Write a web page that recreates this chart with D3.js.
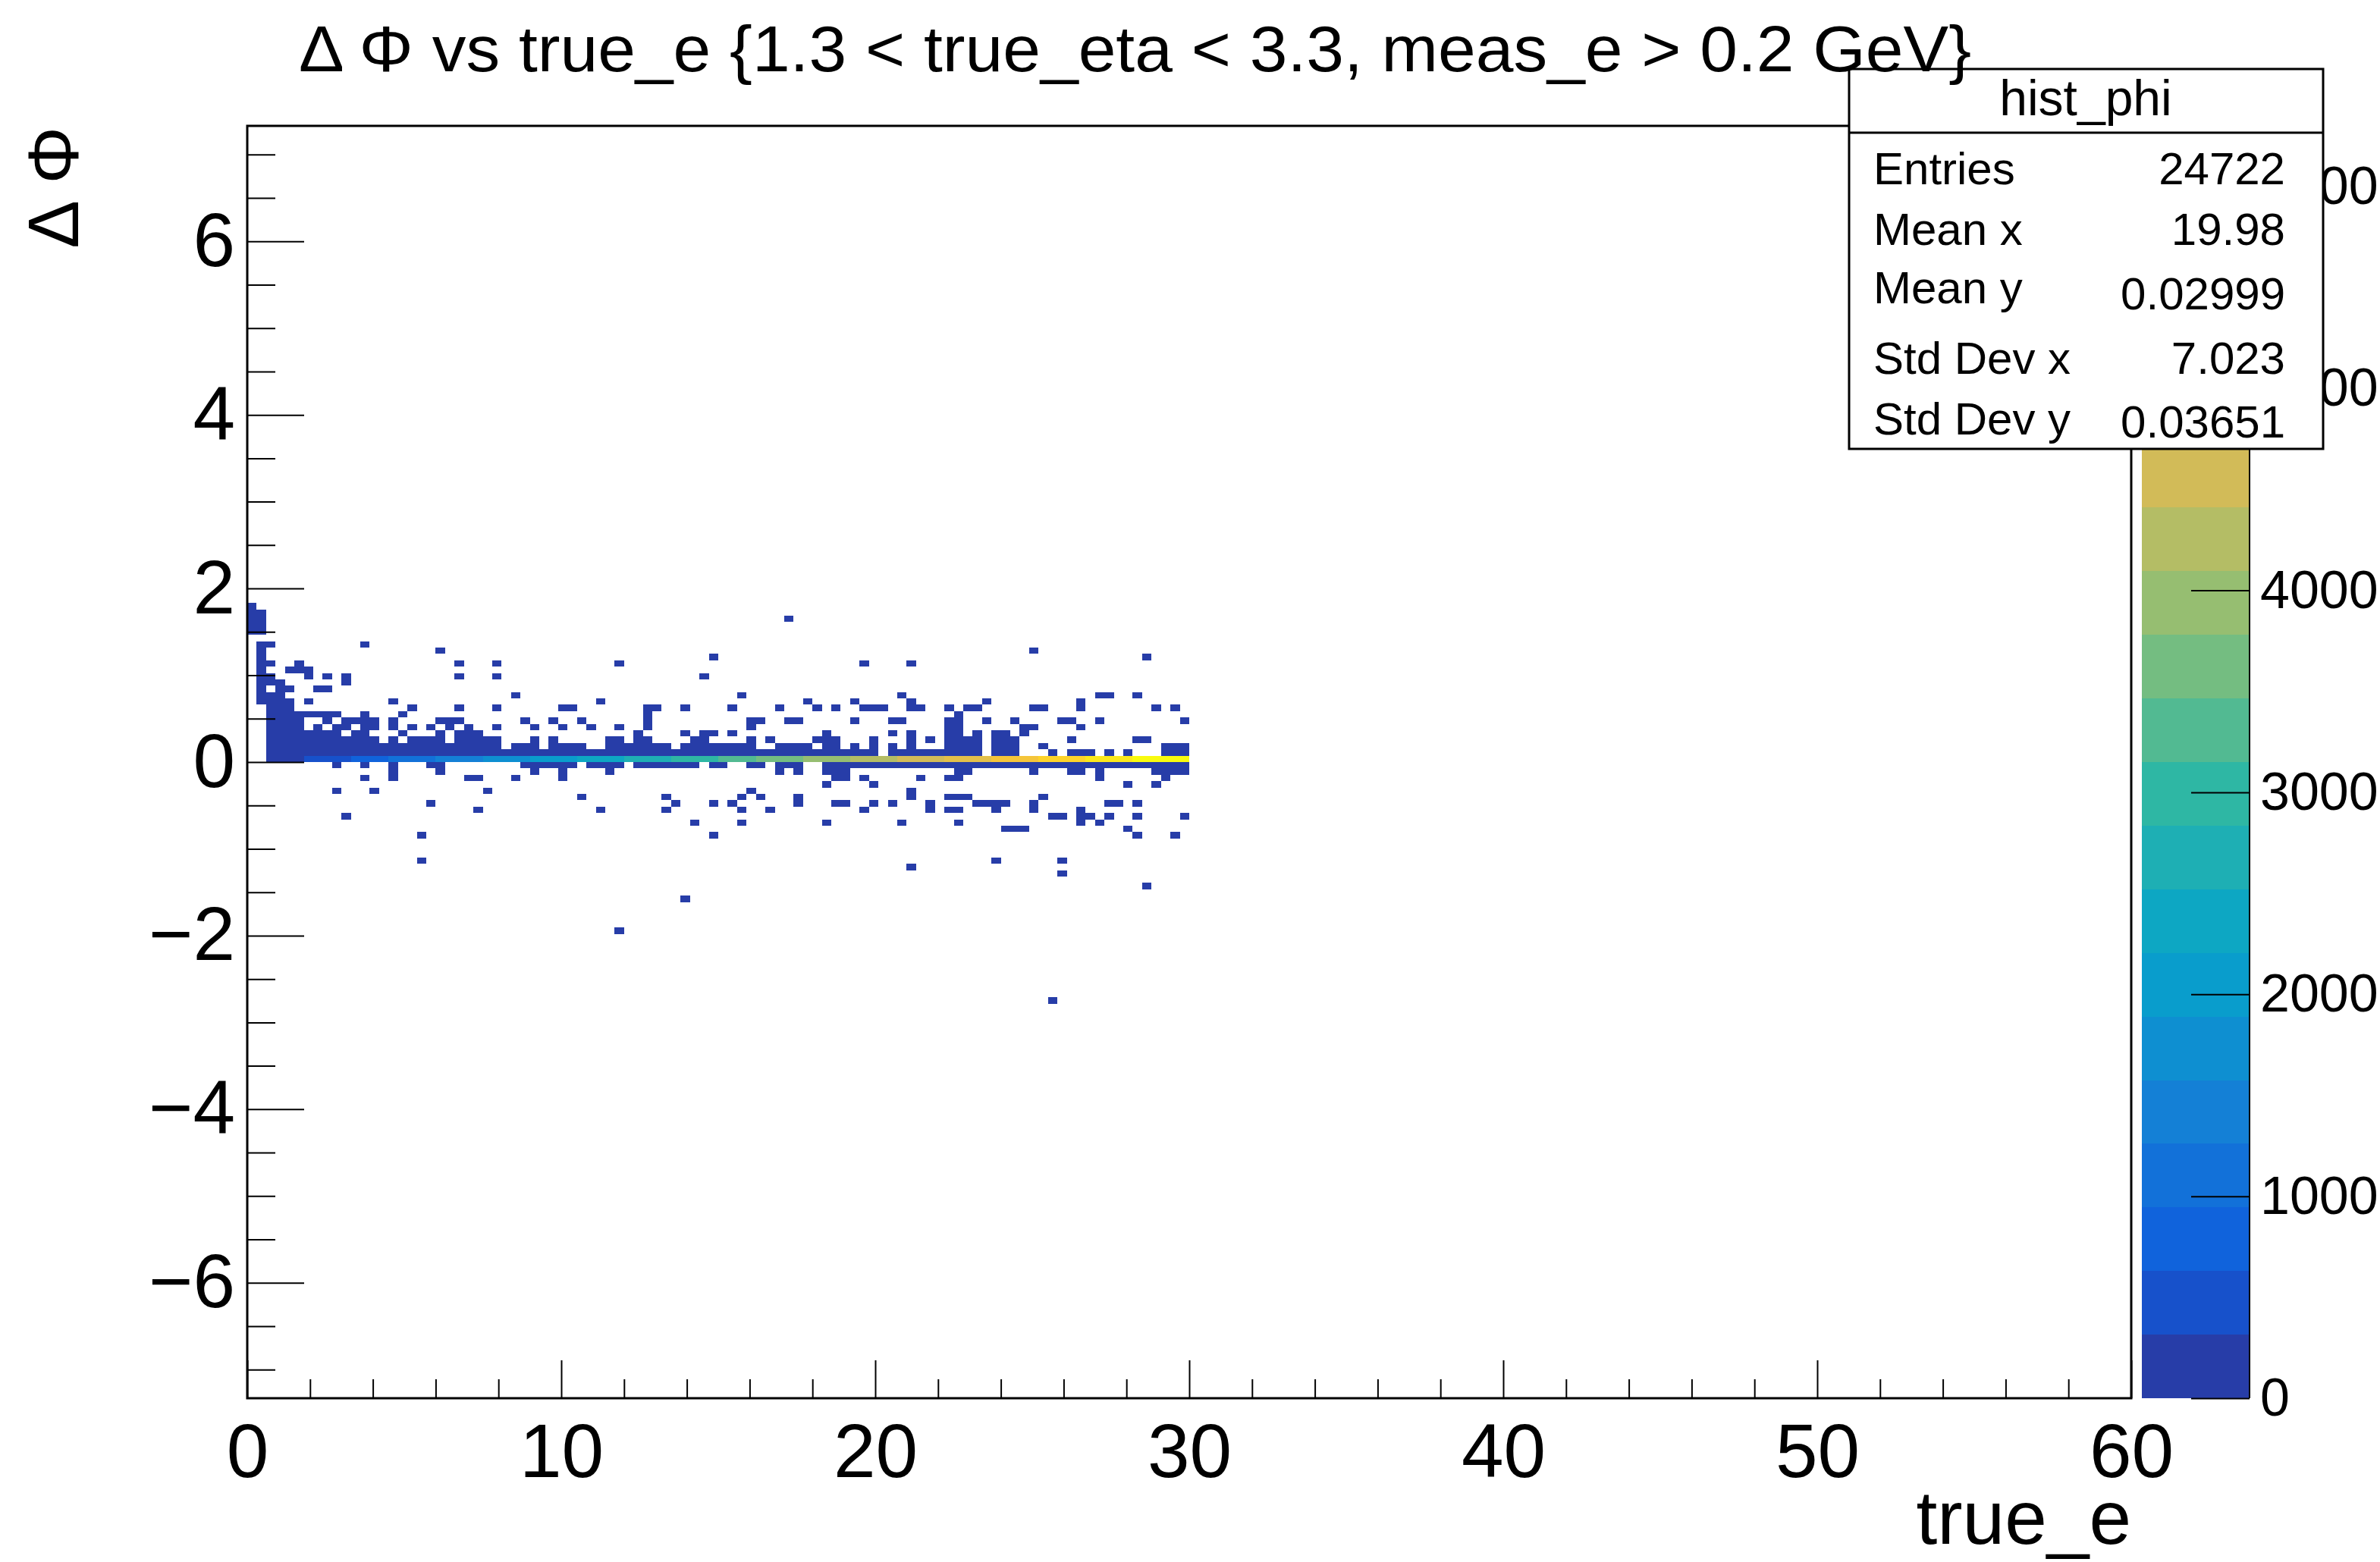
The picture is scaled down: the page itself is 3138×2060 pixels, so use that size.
<!DOCTYPE html>
<html>
<head>
<meta charset="utf-8">
<script src="https://cdn.jsdelivr.net/npm/d3@7"></script>
<style>
  html, body { margin: 0; padding: 0; background: #fff; }
  svg text { font-family: "Liberation Sans", Arial, Helvetica, sans-serif; fill: #000; }
</style>
</head>
<body>
<svg id="chart" width="3138" height="2060"></svg>
<script>
// hist_phi binning
const X_RANGE = [0, 60];
const X_BINS = 200;
const Y_RANGE = [-7.33, 7.33];
const Y_BINS = 200;
const Z_MAX = 6300;
const N_LEVELS = 20;

const xMajorTicks = [0, 10, 20, 30, 40, 50, 60];
const yMajorTicks = [-6, -4, -2, 0, 2, 4, 6];
const zTicks = [0, 1000, 2000, 3000, 4000, 5000, 6000];

// kBird palette stops (ROOT default)
const birdStops = [0, 0.125, 0.25, 0.375, 0.5, 0.625, 0.75, 0.875, 1];
const birdRed   = [0.2082, 0.0592, 0.0780, 0.0232, 0.1802, 0.5301, 0.8186, 0.9956, 0.9764];
const birdGreen = [0.1664, 0.3599, 0.5041, 0.6419, 0.7178, 0.7492, 0.7328, 0.7862, 0.9832];
const birdBlue  = [0.5293, 0.8684, 0.8385, 0.7914, 0.6425, 0.4662, 0.3499, 0.1968, 0.0539];

const titleText = 'Δ Φ vs true_e {1.3 < true_eta < 3.3, meas_e > 0.2 GeV}';
const statsName = 'hist_phi';
const statsLabels = ['Entries', 'Mean x', 'Mean y', 'Std Dev x', 'Std Dev y'];
const statsValues = ['24722', '19.98', '0.02999', '7.023', '0.03651'];

// weighted content of the bin on the ΔΦ≈0 row, one value per true_e bin (0.3 wide)
const coreContent = [
  0, 0, 110, 160, 210, 270, 330, 400, 460, 530,
  600, 680, 760, 830, 900, 960, 1030, 1100, 1160, 1230,
  1290, 1360, 1420, 1490, 1550, 1620, 1670, 1750, 1800, 1870,
  1930, 2000, 2050, 2120, 2180, 2250, 2310, 2370, 2430, 2500,
  2560, 2630, 2680, 2750, 2820, 2870, 2940, 3000, 3060, 3130,
  3190, 3280, 3340, 3430, 3470, 3560, 3600, 3690, 3720, 3810,
  3850, 3940, 3970, 4060, 4100, 4190, 4230, 4320, 4350, 4450,
  4480, 4570, 4600, 4700, 4730, 4830, 4860, 4950, 4980, 5080,
  5110, 5200, 5240, 5330, 5360, 5460, 5490, 5580, 5620, 5710,
  5740, 5840, 5870, 5960, 5990, 6080, 6120, 6250, 6210, 6290
];

// non-empty ΔΦ bins per true_e bin, counted from the bin that starts at ΔΦ = 0
const filledRows = [
  '20..24', '9..18,20..23', '0..10,12,13,15,18', '0..12', '0..9,11,14',
  '0..7,14,15', '0..4,7,9,13,14', '0..5,7,11', '0..4,6,7,11,13', '-1..5,7,-5',
  '0..3,5,6,12,13,-9', '0..4,6', '-1..7,18,-3', '0..3,5,6,-5', '0..2',
  '-3..3,5,6,9', '0..2,4,7', '0..3,5,8', '0..3,-12,-16', '-1..3,5,-7',
  '-2..4,6,17', '0..2,5,6', '0..4,6,8,13,15', '0..5,-3', '0..4,-3,-8',
  '0..3,-5', '0..3,5,8,13,15', '0..1', '0..2,10,-3', '-1..2,6',
  '-2..3,5', '-1..1', '-1..3,6', '-3..2,5,8', '-1..2,8',
  '0..2,6,-6', '-1..1,5', '-1..1,9,-8', '-2..3', '-1..3,5,15,-27',
  '0..2', '-1..4', '-1..3,5..8', '-1..2,8', '-1..2,-6,-8',
  '-1..1,-7', '-1..2,4,8,-22', '-1..3,-10', '0..4,13', '-1..2,4,16,-7,-12',
  '-1..2', '0..2,4,8,-7', '0..2,10,-6,-8,-10', '-1..3,5,6,-5', '-1..1,6,-6',
  '0..1,3,-8', '-2..2,8', '-1..2,6,22', '-2..2,6,-7..-6', '0..2,9',
  '0..1,3,8', '-2..4,-4,-10', '-3..3,8,-7', '-3..1,-7', '-1..2,6,9',
  '-1..1,8,15,-3,-8', '-1..3,8,-4,-7', '-1..0,8', '-1..2,4,6,-7', '-1..1,6,10,-10',
  '-1..4,8,9,15,-6..-5,-17', '-1..1,8,-3', '-1..1,3,-8..-7', '-1..1', '-1..6,8,-3,-6,-8',
  '-3..7,-6,-8,-10', '-2..3,8,-6', '-1..4,8,-7', '-1..0,6,9,-7', '-1..4,-8..-7,-16',
  '-1..4,-7,-11', '-1..3,6,-11', '-1..0,4,5,-11', '-2..0,5,8,17,-8..-7', '-1..0,2,8,-6',
  '-1..1,-9,-38', '-1..0,6,-9,-16,-18', '-2..1,3,6', '-2..1,5,8,9,-10..-8', '-1..1,-9',
  '-3..0,6,10,-10', '-1..1,10,-7,-9', '-1..0,-7', '-1..1,-4,-11', '-1..0,3,10,-7,-9,-12',
  '-1..0,3,16,-20', '-2..0,-4,8', '-3..2', '-2..2,8,-12', '-2..2,6,-9'
];

// ---- layout ----
const FRAME = { left: 326, right: 2810, top: 166, bottom: 1844 };
const PAL = { left: 2824, right: 2966 };
const FONT = '"Liberation Sans", Arial, Helvetica, sans-serif';

const svg = d3.select('#chart');
svg.append('rect').attr('width', 3138).attr('height', 2060).attr('fill', '#fff');

const xScale = d3.scaleLinear().domain(X_RANGE).range([FRAME.left, FRAME.right]);
const yScale = d3.scaleLinear().domain(Y_RANGE).range([FRAME.bottom, FRAME.top]);
const zScale = d3.scaleLinear().domain([0, Z_MAX]).range([FRAME.bottom, FRAME.top]);

const bird = d3.scaleLinear()
  .domain(birdStops)
  .range(birdStops.map((_, i) => d3.rgb(birdRed[i] * 255, birdGreen[i] * 255, birdBlue[i] * 255).formatHex()))
  .interpolate(d3.interpolateRgb);
const palette = d3.range(255).map(k => bird(k / 254));
const levelColor = lvl => palette[Math.floor((lvl + 0.99) * 255 / N_LEVELS)];
const contentColor = v => levelColor(Math.min(N_LEVELS - 1, Math.floor(0.01 + v * N_LEVELS / Z_MAX)));

function parseRows(s) {
  return s.split(',').flatMap(part => {
    const [a, b] = part.split('..').map(Number);
    return b === undefined ? [a] : d3.range(a, b + 1);
  });
}

// build bins
const xw = (X_RANGE[1] - X_RANGE[0]) / X_BINS;
const yw = (Y_RANGE[1] - Y_RANGE[0]) / Y_BINS;
const zeroBin = Math.floor((0 - Y_RANGE[0]) / yw + 1e-6);
const cells = [];
filledRows.forEach((s, col) => {
  parseRows(s).forEach(r => {
    const x0 = X_RANGE[0] + col * xw;
    const y0 = Y_RANGE[0] + (zeroBin + r) * yw;
    // off-core bins hold a single entry weighted by true_e
    const content = r === 0 ? coreContent[col] : x0 + xw / 2;
    cells.push({ x0, y0, content });
  });
});

svg.append('g').attr('shape-rendering', 'crispEdges')
  .selectAll('rect').data(cells).join('rect')
  .attr('x', d => xScale(d.x0))
  .attr('width', d => xScale(d.x0 + xw) - xScale(d.x0))
  .attr('y', d => yScale(d.y0 + yw))
  .attr('height', d => yScale(d.y0) - yScale(d.y0 + yw))
  .attr('fill', d => contentColor(d.content));

// ---- axes ----
function styleAxis(g, size) {
  g.attr('font-family', FONT).attr('font-size', size).attr('color', '#000');
  g.select('.domain').remove();
  g.selectAll('line').attr('stroke-width', 2);
}

svg.append('g').attr('transform', `translate(0,${FRAME.bottom})`)
  .call(d3.axisBottom(xScale).tickValues(d3.range(2, 60, 2).filter(v => v % 10)).tickSize(-25).tickSizeOuter(0).tickFormat(''))
  .call(g => styleAxis(g, 100));
svg.append('g').attr('transform', `translate(0,${FRAME.bottom})`)
  .call(d3.axisBottom(xScale).tickValues(xMajorTicks).tickSize(-50).tickSizeOuter(0).tickPadding(33).tickFormat(d3.format('d')))
  .call(g => styleAxis(g, 100));

svg.append('g').attr('transform', `translate(${FRAME.left},0)`)
  .call(d3.axisLeft(yScale).tickValues(d3.range(-7, 7.01, 0.5).filter(v => v % 2 !== 0)).tickSize(-37).tickSizeOuter(0).tickFormat(''))
  .call(g => styleAxis(g, 100));
svg.append('g').attr('transform', `translate(${FRAME.left},0)`)
  .call(d3.axisLeft(yScale).tickValues(yMajorTicks).tickSize(-75).tickSizeOuter(0).tickPadding(16).tickFormat(d3.format('d')))
  .call(g => styleAxis(g, 100));

svg.append('rect')
  .attr('x', FRAME.left).attr('y', FRAME.top)
  .attr('width', FRAME.right - FRAME.left).attr('height', FRAME.bottom - FRAME.top)
  .attr('fill', 'none').attr('stroke', '#000').attr('stroke-width', 3);

// ---- palette ----
svg.append('g').attr('shape-rendering', 'crispEdges')
  .selectAll('rect').data(d3.range(N_LEVELS)).join('rect')
  .attr('x', PAL.left).attr('width', PAL.right - PAL.left)
  .attr('y', k => zScale((k + 1) * Z_MAX / N_LEVELS))
  .attr('height', k => zScale(k * Z_MAX / N_LEVELS) - zScale((k + 1) * Z_MAX / N_LEVELS))
  .attr('fill', k => levelColor(k));

svg.append('g').attr('transform', `translate(${PAL.right},0)`)
  .call(d3.axisRight(zScale).tickValues(zTicks).tickSize(-77).tickSizeOuter(0).tickPadding(14).tickFormat(d3.format('d')))
  .call(g => styleAxis(g, 70));
svg.append('line')
  .attr('x1', PAL.right).attr('x2', PAL.right)
  .attr('y1', FRAME.top).attr('y2', FRAME.bottom)
  .attr('stroke', '#000').attr('stroke-width', 2);

// ---- axis titles ----
svg.append('text')
  .attr('x', FRAME.right).attr('y', 2036)
  .attr('text-anchor', 'end').attr('font-size', 100)
  .text('true_e');

svg.append('text')
  .attr('transform', `translate(103,167) rotate(-90)`)
  .attr('text-anchor', 'end').attr('font-size', 95)
  .text('Δ Φ');

// ---- stats box ----
const stats = svg.append('g');
stats.append('rect')
  .attr('x', 2438).attr('y', 91).attr('width', 625).attr('height', 501)
  .attr('fill', '#fff').attr('stroke', '#000').attr('stroke-width', 3);
stats.append('line')
  .attr('x1', 2438).attr('x2', 3063).attr('y1', 175).attr('y2', 175)
  .attr('stroke', '#000').attr('stroke-width', 3);
stats.append('text')
  .attr('x', 2750).attr('y', 152).attr('text-anchor', 'middle').attr('font-size', 66)
  .text(statsName);

const labelBase = [243, 323, 400, 493, 573];
const valueBase = [243, 323, 408, 493, 577];
statsLabels.forEach((lab, i) => {
  stats.append('text').attr('x', 2470).attr('y', labelBase[i]).attr('font-size', 60).text(lab);
  stats.append('text').attr('x', 3013).attr('y', valueBase[i]).attr('font-size', 60)
    .attr('text-anchor', 'end').text(statsValues[i]);
});

// ---- title (drawn last, it runs over the stats box) ----
svg.append('text')
  .attr('x', 394).attr('y', 94)
  .attr('font-size', 86)
  .attr('textLength', 2205).attr('lengthAdjust', 'spacingAndGlyphs')
  .text(titleText);
</script>
</body>
</html>
